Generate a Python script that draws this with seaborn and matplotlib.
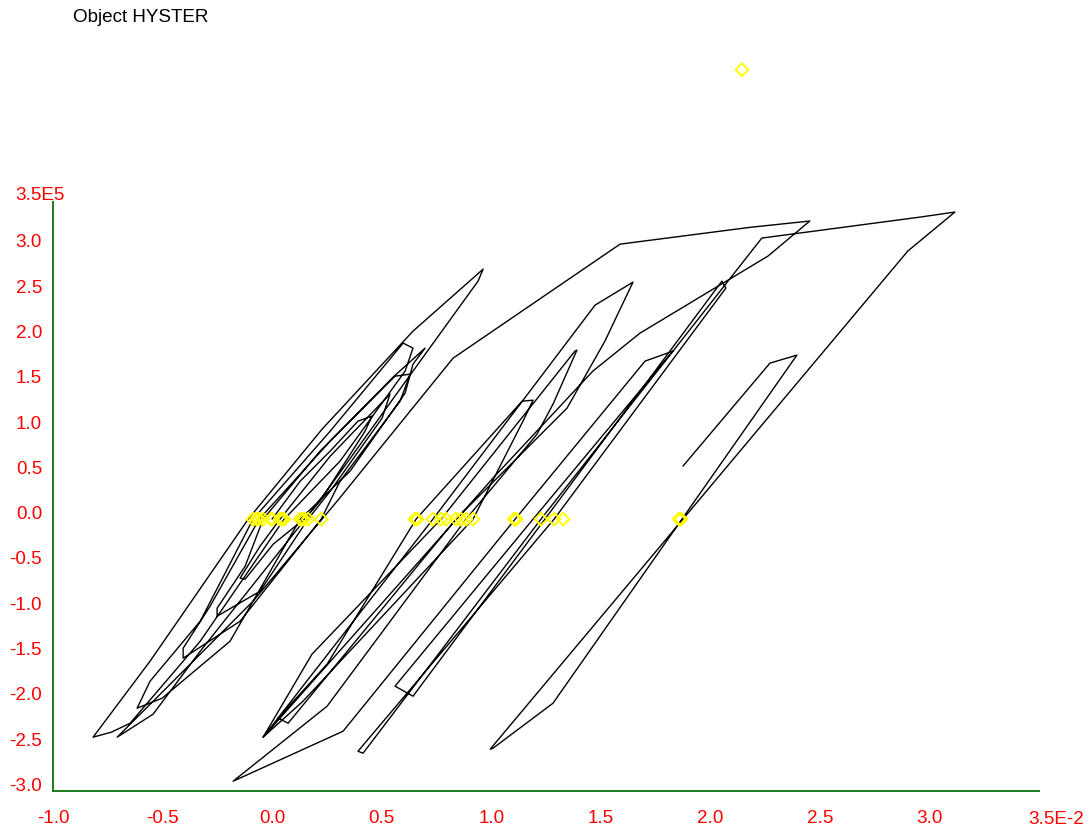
import matplotlib
matplotlib.use("Agg")
import matplotlib.pyplot as plt
import seaborn as sns
import pandas as pd

# ---- data (x in 1E-2, y in 1E5) ----
hyst_x = [0.000, 0.128, 0.265, 0.392, 0.456, 0.424, 0.219, 0.146, 0.005, -0.123, -0.146, -0.055, 0.036,
          0.265, 0.538, 0.502, 0.265, 0.164, -0.055, -0.251, -0.251, -0.123, -0.041,
          0.219, 0.561, 0.630, 0.584, 0.310, 0.224, -0.146, -0.406, -0.406, -0.283, -0.059,
          0.265, 0.552, 0.698, 0.643, 0.607, 0.356, 0.128, -0.192, -0.502, -0.616, -0.557, -0.328, -0.087,
          0.265, 0.598, 0.643, 0.607, 0.310, 0.055, -0.328, -0.648, -0.734, -0.817, -0.557, -0.109,
          0.228, 0.643, 0.963, 0.940, 0.643, 0.265, 0.151, -0.328, -0.543, -0.707,
          -0.269, -0.087, 0.297, 0.826, 1.588, 2.180, 2.454,
          2.263, 1.679, 1.464, 1.008, -0.041,
          0.734, 1.474, 1.647, 1.519, 1.346, 0.839, 0.073, 0.027,
          0.251, 0.657, 1.141, 1.191, 1.145, 0.917, 0.141, -0.041,
          0.182, 0.771, 1.382, 1.391, 1.282, 1.209, 0.885, 0.251, -0.178,
          0.324, 1.109, 1.702, 1.829, 1.191, 0.561, 0.643,
          1.245, 2.053, 2.071, 1.287, 0.392, 0.415,
          1.227, 2.235, 2.956, 3.116, 2.901, 1.875, 0.995, 1.008,
          1.282, 2.395, 2.272, 1.875]
hyst_y = [0.000, 0.419, 0.751, 1.082, 1.137, 0.970, 0.199, 0.000, -0.276, -0.662, -0.651, -0.298, 0.000,
          0.695, 1.380, 1.115, 0.309, 0.000, -0.795, -1.071, -0.982, -0.519, 0.000,
          0.751, 1.578, 1.600, 1.302, 0.419, 0.000, -1.126, -1.534, -1.424, -0.960, 0.000,
          0.861, 1.567, 1.887, 1.711, 1.391, 0.530, 0.000, -1.347, -1.976, -2.086, -1.788, -1.126, 0.000,
          0.971, 1.943, 1.887, 1.634, 0.640, 0.000, -1.347, -2.252, -2.351, -2.406, -1.567, 0.000,
          0.993, 2.075, 2.759, 2.627, 1.634, 0.364, 0.000, -1.457, -2.152, -2.406,
          -1.347, -0.905, 0.199, 1.777, 3.035, 3.220, 3.290,
          2.903, 2.053, 1.634, 0.453, -2.406,
          0.000, 2.362, 2.616, 1.965, 1.225, 0.000, -2.252, -2.196,
          -1.600, 0.000, 1.302, 1.313, 1.082, 0.000, -2.009, -2.406,
          -1.490, 0.000, 1.854, 1.865, 1.269, 0.938, 0.000, -2.064, -2.892,
          -2.340, 0.000, 1.744, 1.854, 0.000, -1.843, -1.954,
          0.000, 2.627, 2.550, 0.000, -2.561, -2.583,
          0.000, 3.102, 3.333, 3.389, 2.958, 0.000, -2.539, -2.528,
          -2.031, 1.810, 1.722, 0.585]

zero_x = [-0.087, -0.070, -0.059, -0.041, -0.005, 0.000, 0.036, 0.045, 0.055,
          0.128, 0.140, 0.146, 0.164, 0.224,
          0.652, 0.657, 0.662, 0.734, 0.771, 0.794, 0.839, 0.862, 0.885, 0.917,
          1.105, 1.109, 1.114, 1.227, 1.287, 1.328,
          1.857, 1.861, 1.866]
zero_y = [0.0] * len(zero_x)
top_x = [2.144]
top_y = [4.96]

x_ticks = [-1.0, -0.5, 0.0, 0.5, 1.0, 1.5, 2.0, 2.5, 3.0, 3.5]
x_labels = ["-1.0", "-0.5", "0.0", "0.5", "1.0", "1.5", "2.0", "2.5", "3.0", ""]
y_ticks = [-3.0, -2.5, -2.0, -1.5, -1.0, -0.5, 0.0, 0.5, 1.0, 1.5, 2.0, 2.5, 3.0, 3.5]
y_labels = ["-3.0", "-2.5", "-2.0", "-1.5", "-1.0", "-0.5", "0.0", "0.5", "1.0", "1.5",
            "2.0", "2.5", "3.0", ""]

sns.set_style("white")
plt.rcParams['font.family'] = ['Liberation Sans', 'DejaVu Sans']

W, H = 1091, 831
FS = 13.6
fig = plt.figure(figsize=(W / 100, H / 100), dpi=100)
ax = fig.add_axes([53 / W, (H - 791) / H, (1039 - 53) / W, (791 - 202) / H])

df = pd.DataFrame({"x": hyst_x, "y": hyst_y})
sns.lineplot(data=df, x="x", y="y", sort=False, estimator=None, color="black",
             linewidth=1.0, ax=ax)

zdf = pd.DataFrame({"x": zero_x, "y": zero_y})
sns.scatterplot(data=zdf, x="x", y="y", marker="D", s=42, ax=ax, zorder=5)
tdf = pd.DataFrame({"x": top_x, "y": top_y})
sns.scatterplot(data=tdf, x="x", y="y", marker="D", s=42, ax=ax, zorder=5)
for coll in ax.collections:
    coll.set_facecolor("none")
    coll.set_edgecolor("#ffff00")
    coll.set_linewidth(1.4)
    coll.set_clip_on(False)

ax.set_xlim(-1.0, 3.5)
ax.set_ylim(-3.0, 3.5)
ax.set_xlabel("")
ax.set_ylabel("")
ax.set_xticks(x_ticks)
ax.set_xticklabels(x_labels)
ax.set_yticks(y_ticks)
ax.set_yticklabels(y_labels)

red = "#ff0000"
green = "#1a7a1a"
ax.tick_params(axis="both", direction="inout", length=8.6, width=1.0, color=red,
               labelcolor=red, labelsize=FS)
ax.tick_params(axis="x", pad=9.5)
ax.tick_params(axis="y", pad=3.6)
for t in ax.get_yticklabels():
    t.set_verticalalignment("baseline")

for s in ["top", "right"]:
    ax.spines[s].set_visible(False)
for s in ["left", "bottom"]:
    ax.spines[s].set_color(green)
    ax.spines[s].set_linewidth(1.4)
ax.set_facecolor("white")

ax.annotate("3.5E-2", xy=(3.5, 0), xycoords=("data", "axes fraction"),
            xytext=(-8, -14.2), textcoords="offset points", ha="left", va="top",
            color=red, fontsize=FS, annotation_clip=False)
ax.annotate("3.5E5", xy=(0, 3.5), xycoords=("axes fraction", "data"),
            xytext=(-27.4, 1.4), textcoords="offset points", ha="left", va="baseline",
            color=red, fontsize=FS, annotation_clip=False)

fig.text(73 / W, 1 - 18 / H, "Object HYSTER", ha="left", va="center",
         fontsize=FS, color="black")

fig.savefig("out.png", dpi=100, facecolor="white")
